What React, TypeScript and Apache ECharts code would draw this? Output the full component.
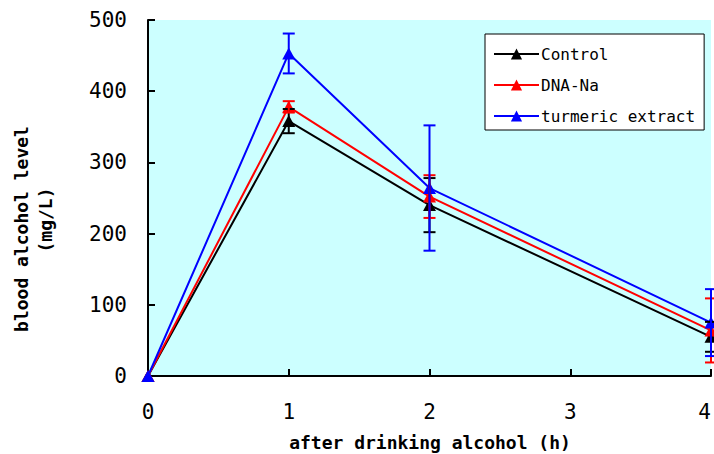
import React, { useEffect, useRef } from "react";
import * as echarts from "echarts";

const hours = [0, 1, 2, 4];
const xTicks = [0, 1, 2, 3, 4];
const yTicks = [0, 100, 200, 300, 400, 500];

const seriesNames = ["Control", "DNA-Na", "turmeric extract"];
const seriesColors = ["#000000", "#FF0000", "#0000FF"];

const control = [0, 358, 240, 55];
const controlErr = [0, 17, 38, 21];
const dnaNa = [0, 378, 252, 64];
const dnaNaErr = [0, 8, 30, 45];
const turmeric = [0, 453, 264, 75];
const turmericErr = [0, 28, 88, 47];

const values = [control, dnaNa, turmeric];
const errors = [controlErr, dnaNaErr, turmericErr];

const FONT = "DejaVu Sans Mono";

export default function App() {
  const ref = useRef<HTMLDivElement>(null);
  useEffect(() => {
    if (!ref.current) return;
    document.documentElement.style.overflow = "hidden";
    document.body.style.overflow = "hidden";
    document.body.style.margin = "0";
    const chart = echarts.init(ref.current, undefined, { renderer: "svg", width: 714, height: 454 });

    const lineSeries = values.map((vals, i) => ({
      name: seriesNames[i],
      type: "line",
      data: hours.map((h, j) => [h, vals[j]]),
      symbol: "triangle",
      symbolSize: [13, 12],
      lineStyle: { color: seriesColors[i], width: 2 },
      itemStyle: { color: seriesColors[i] },
      z: 3,
    }));

    const errSeries = values.map((vals, i) => ({
      name: seriesNames[i] + " err",
      type: "custom",
      z: 4,
      clip: false,
      data: hours
        .map((h, j) => [h, vals[j] - errors[i][j], vals[j] + errors[i][j], errors[i][j]])
        .filter((d) => d[3] > 0),
      renderItem: (params: any, api: any) => {
        const x = api.value(0);
        const top = api.coord([x, api.value(2)]);
        const bot = api.coord([x, api.value(1)]);
        const hw = 6;
        const st = { stroke: seriesColors[i], lineWidth: 2 };
        return {
          type: "group",
          children: [
            { type: "line", shape: { x1: top[0], y1: top[1], x2: bot[0], y2: bot[1] }, style: st },
            { type: "line", shape: { x1: top[0] - hw, y1: top[1], x2: top[0] + hw, y2: top[1] }, style: st },
            { type: "line", shape: { x1: bot[0] - hw, y1: bot[1], x2: bot[0] + hw, y2: bot[1] }, style: st },
          ],
        };
      },
    }));

    chart.setOption({
      animation: false,
      backgroundColor: "#FFFFFF",
      grid: {
        left: 148,
        right: 3,
        top: 20,
        bottom: 78,
        containLabel: false,
        outerBoundsMode: "none",
        show: true,
        backgroundColor: "#CCFFFF",
        borderWidth: 0,
      },
      legend: {
        data: seriesNames,
        orient: "vertical",
        left: 485,
        top: 34,
        backgroundColor: "#FFFFFF",
        borderColor: "#000000",
        borderWidth: 1,
        borderRadius: 0,
        padding: [12, 9, 6, 8],
        itemWidth: 45,
        itemHeight: 14,
        itemGap: 15,
        textStyle: { fontFamily: FONT, fontSize: 16, color: "#000000", padding: [0, 0, 0, -3] },
      },
      xAxis: {
        type: "value",
        min: xTicks[0],
        max: xTicks[xTicks.length - 1],
        interval: 1,
        splitLine: { show: false },
        axisLine: { lineStyle: { color: "#000000", width: 2 } },
        axisTick: { inside: true, length: 7, lineStyle: { color: "#000000", width: 2 } },
        axisLabel: {
          margin: 25,
          fontFamily: FONT,
          fontSize: 21,
          color: "#000000",
          alignMaxLabel: "right",
        },
      },
      yAxis: {
        type: "value",
        min: yTicks[0],
        max: yTicks[yTicks.length - 1],
        interval: 100,
        splitLine: { show: false },
        axisLine: { show: true, lineStyle: { color: "#000000", width: 2 } },
        axisTick: { show: true, inside: true, length: 7, lineStyle: { color: "#000000", width: 2 } },
        axisLabel: {
          margin: 21,
          fontFamily: FONT,
          fontSize: 21,
          color: "#000000",
        },
      },
      graphic: [
        {
          type: "text",
          x: 430,
          y: 442,
          style: {
            text: "after drinking alcohol (h)",
            fontFamily: FONT,
            fontSize: 18,
            fontWeight: "bold",
            fill: "#000000",
            align: "center",
            verticalAlign: "middle",
          },
        },
        {
          type: "text",
          x: 21,
          y: 229,
          rotation: Math.PI / 2,
          style: {
            text: "blood alcohol level",
            fontFamily: FONT,
            fontSize: 18,
            fontWeight: "bold",
            fill: "#000000",
            align: "center",
            verticalAlign: "middle",
          },
        },
        {
          type: "text",
          x: 45,
          y: 220,
          rotation: Math.PI / 2,
          style: {
            text: "(mg/L)",
            fontFamily: FONT,
            fontSize: 18,
            fontWeight: "bold",
            fill: "#000000",
            align: "center",
            verticalAlign: "middle",
          },
        },
      ],
      series: [...lineSeries, ...errSeries],
    });

    return () => chart.dispose();
  }, []);

  return <div ref={ref} style={{ width: 714, height: 454, position: "absolute", left: 0, top: 0 }} />;
}
